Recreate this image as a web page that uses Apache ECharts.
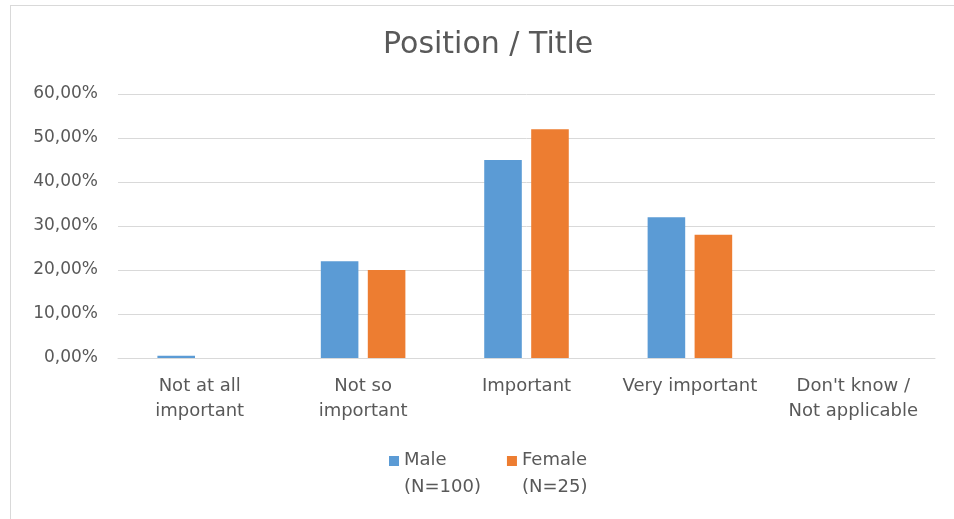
<!DOCTYPE html>
<html>
<head>
<meta charset="utf-8">
<script src="https://cdn.jsdelivr.net/npm/echarts@6/dist/echarts.min.js"></script>
<style>
  html, body { margin: 0; padding: 0; background: #fff; }
  #frame {
    position: absolute; left: 10px; top: 5px; width: 960px; height: 530px;
    border: 1px solid #d9d9d9; box-sizing: border-box;
  }
  #chart { position: absolute; left: 0; top: 0; width: 954px; height: 519px; }
</style>
</head>
<body>
<div id="frame"></div>
<div id="chart"></div>
<script>
const categories = [
  "Not at all\nimportant",
  "Not so\nimportant",
  "Important",
  "Very important",
  "Don't know /\nNot applicable",
]
// percent values
const maleValues = [0.5, 22, 45, 32, 0]
const femaleValues = [0, 20, 52, 28, 0]
const legendNotes = { Male: "(N=100)", Female: "(N=25)" }

const textColor = "#595959"
const font = "'DejaVu Sans', sans-serif"

// square at the top of a tall box, so the icon sits next to the first legend line
const legendIcon = "path://M0,0h10v10h-10z M0,35.99h0.01v0.01h-0.01z"

const myChart = echarts.init(document.getElementById("chart"))
const option = {
  animation: false,
  title: {
    text: "Position / Title",
    left: 378,
    top: 25,
    textStyle: { fontFamily: font, fontSize: 30, fontWeight: "normal", color: textColor },
  },
  legend: {
    data: ["Male", "Female"],
    left: 389,
    top: 447,
    padding: 0,
    itemWidth: 10,
    itemHeight: 36,
    itemGap: 26,
    icon: legendIcon,
    formatter: (name) => name + "\n" + legendNotes[name],
    textStyle: {
      fontFamily: font,
      fontSize: 18,
      color: textColor,
      lineHeight: 27,
    },
  },
  grid: { left: 118, right: 19, top: 94, bottom: 161, containLabel: false },
  xAxis: {
    type: "category",
    data: categories,
    axisTick: { show: false },
    axisLine: { lineStyle: { color: "#d9d9d9" } },
    axisLabel: {
      interval: 0,
      margin: 16,
      fontFamily: font,
      fontSize: 18,
      lineHeight: 25,
      color: textColor,
    },
  },
  yAxis: {
    type: "value",
    min: 0,
    max: 60,
    interval: 10,
    axisLabel: {
      margin: 20,
      fontFamily: font,
      fontSize: 17,
      color: textColor,
      formatter: (v) => v + ",00%",
    },
    splitLine: { lineStyle: { color: "#d9d9d9" } },
  },
  series: [
    {
      name: "Male",
      type: "bar",
      data: maleValues,
      barWidth: "23%",
      barGap: "25%",
      itemStyle: { color: "#5b9bd5" },
    },
    {
      name: "Female",
      type: "bar",
      data: femaleValues,
      barWidth: "23%",
      itemStyle: { color: "#ed7d31" },
    },
  ],
}
myChart.setOption(option)
</script>
</body>
</html>
